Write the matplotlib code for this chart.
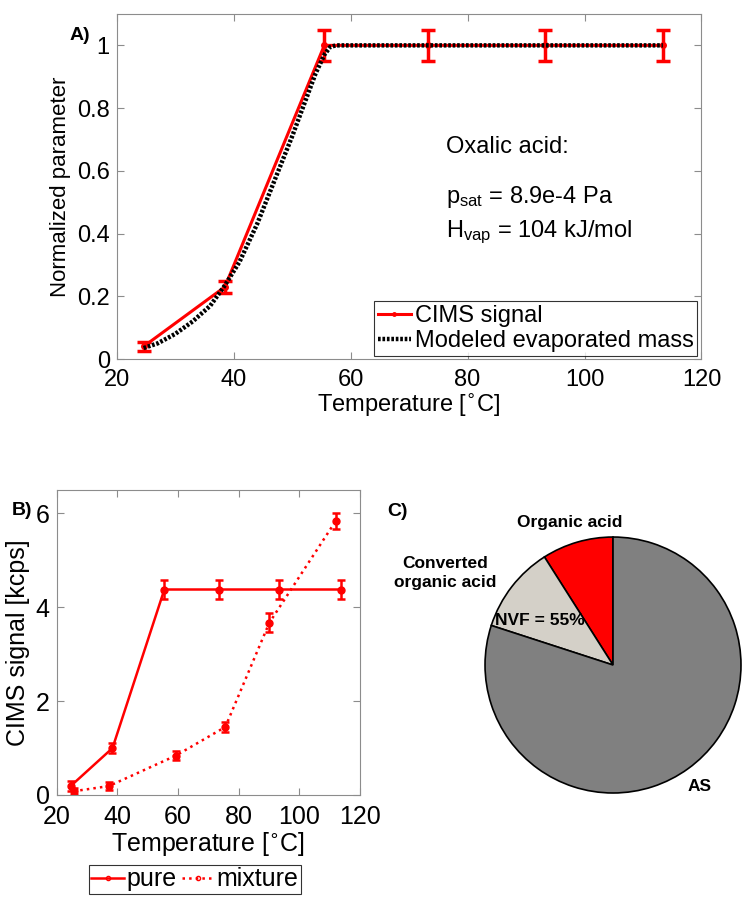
import matplotlib
matplotlib.use("Agg")
import matplotlib.pyplot as plt
from matplotlib.lines import Line2D

plt.rcParams['font.family'] = ['Liberation Sans', 'DejaVu Sans']

# panel A data
temp_a = [24.6, 38.5, 55.5, 73.3, 93.2, 113.4]
cims_norm = [0.04, 0.23, 1.0, 1.0, 1.0, 1.0]
cims_norm_err = [0.015, 0.02, 0.05, 0.05, 0.05, 0.05]
temp_model = [24.6, 27, 30, 33, 36, 38.5, 41, 44, 47, 50, 52, 54, 55.5, 56.5, 57.5, 70, 90, 113.4]
model_mass = [0.035, 0.05, 0.08, 0.12, 0.17, 0.235, 0.31, 0.43, 0.57, 0.71, 0.81, 0.91, 0.97, 0.995, 1.0, 1.0, 1.0, 1.0]

# panel B data
temp_pure = [24.6, 38.4, 55.5, 73.4, 93.4, 113.7]
cims_pure = [0.19, 1.0, 4.38, 4.38, 4.38, 4.38]
cims_pure_err = [0.1, 0.1, 0.2, 0.2, 0.2, 0.2]
temp_mix = [25.6, 37.2, 59.3, 75.6, 90.1, 112.0]
cims_mix = [0.08, 0.19, 0.84, 1.45, 3.67, 5.84]
cims_mix_err = [0.06, 0.08, 0.1, 0.1, 0.2, 0.18]

# panel C data
pie_labels = ['Organic acid', 'Converted\norganic acid', 'AS']
pie_fracs = [0.09, 0.11, 0.80]
pie_colors = ['#ff0000', '#d4d0c8', '#808080']

red = '#ff0000'
frame = '#8c8c8c'


def style_axes(ax, size):
    for s in ax.spines.values():
        s.set_color(frame)
    ax.tick_params(direction='in', top=True, right=True, color=frame,
                   labelsize=size, length=5, pad=5)


fig = plt.figure(figsize=(7.43, 8.98), dpi=100)

# ---- A ----
ax1 = fig.add_axes([0.1571, 0.6002, 0.787, 0.3842])
ax1.errorbar(temp_a, cims_norm, yerr=cims_norm_err, color=red, lw=2.2,
             marker='.', ms=8, capsize=5, capthick=2.5, elinewidth=2.5, zorder=2)
ax1.plot(temp_model, model_mass, color='black', lw=3.2, ls=(0, (0.6, 0.4)), zorder=3)
ax1.set_xlim(20, 120)
ax1.set_ylim(0, 1.1)
ax1.set_xticks([20, 40, 60, 80, 100, 120])
ax1.set_yticks([0, 0.2, 0.4, 0.6, 0.8, 1])
ax1.set_yticklabels(['0', '0.2', '0.4', '0.6', '0.8', '1'])
style_axes(ax1, 17)
ax1.tick_params(axis='x', pad=7)
ax1.set_xlabel('Temperature [$^{\\circ}$C]', fontsize=17, labelpad=1)
ax1.set_ylabel('Normalized parameter', fontsize=16, labelpad=4)
ax1.text(76.3, 0.656, 'Oxalic acid:', fontsize=17, va='baseline')
ax1.text(76.3, 0.497, '$\\mathregular{p_{sat}}$ = 8.9e-4 Pa', fontsize=17, va='baseline')
ax1.text(76.3, 0.389, '$\\mathregular{H_{vap}}$ = 104 kJ/mol', fontsize=17, va='baseline')
h1 = [Line2D([], [], color=red, lw=2.2, marker='.', ms=5),
      Line2D([], [], color='black', lw=3.2, ls=(0, (0.6, 0.4)))]
leg1 = ax1.legend(h1, ['CIMS signal', 'Modeled evaporated mass'],
                  loc='lower right', bbox_to_anchor=(0.9923, 0.0087),
                  fontsize=17, fancybox=False, borderaxespad=0,
                  handlelength=1.4, handletextpad=0.15, borderpad=0.15,
                  labelspacing=0.15)
leg1.get_frame().set_edgecolor('black')
leg1.get_frame().set_linewidth(0.8)
fig.text(0.094, 0.9555, 'A)', fontsize=14, fontweight='bold')

# ---- B ----
ax2 = fig.add_axes([0.0763, 0.1147, 0.4082, 0.3396])
ax2.errorbar(temp_pure, cims_pure, yerr=cims_pure_err, color=red, lw=1.8,
             marker='o', ms=5, capsize=3, capthick=1.8, elinewidth=1.8)
ax2.errorbar(temp_mix, cims_mix, yerr=cims_mix_err, color=red, lw=1.8, ls=':',
             marker='o', ms=5, capsize=3, capthick=1.8, elinewidth=1.8)
ax2.set_xlim(20, 120)
ax2.set_ylim(0, 6.5)
ax2.set_xticks([20, 40, 60, 80, 100, 120])
ax2.set_yticks([0, 2, 4, 6])
style_axes(ax2, 18)
ax2.tick_params(axis='x', pad=7)
ax2.set_xlabel('Temperature [$^{\\circ}$C]', fontsize=18, labelpad=1)
ax2.set_ylabel('CIMS signal [kcps]', fontsize=18, labelpad=4)
h2 = [Line2D([], [], color=red, lw=1.8, marker='o', ms=3, mfc='none'),
      Line2D([], [], color=red, lw=1.8, ls=':', marker='o', ms=3, mfc='none')]
leg2 = ax2.legend(h2, ['pure', 'mixture'], loc='upper center',
                  bbox_to_anchor=(0.456, -0.2295), borderaxespad=0,
                  ncol=2, fontsize=18, fancybox=False, handlelength=1.3,
                  handletextpad=0.1, columnspacing=0.2, borderpad=0.1)
leg2.get_frame().set_edgecolor('black')
leg2.get_frame().set_linewidth(0.8)
fig.text(0.016, 0.4265, 'B)', fontsize=14, fontweight='bold')

# ---- C ----
ax3 = fig.add_axes([0.6528, 0.1169, 0.3445, 0.2851])
ax3.pie(pie_fracs, colors=pie_colors, startangle=90, counterclock=True,
        wedgeprops=dict(edgecolor='black', linewidth=1.2))
ax3.set_xlim(-1, 1)
ax3.set_ylim(-1, 1)
ax3.set_aspect('equal')
ax3.axis('off')
ax3.text(-0.34, 1.11, pie_labels[0], ha='center', va='center', fontsize=12.5,
         fontweight='bold', clip_on=False)
ax3.text(-1.31, 0.72, pie_labels[1], ha='center', va='center', fontsize=12.5,
         fontweight='bold', linespacing=1.3, clip_on=False)
ax3.text(-0.57, 0.35, 'NVF = 55%', ha='center', va='center', fontsize=12.5,
         fontweight='bold', clip_on=False)
ax3.text(0.68, -0.95, pie_labels[2], ha='center', va='center', fontsize=12.5,
         fontweight='bold', clip_on=False)
fig.text(0.521, 0.4254, 'C)', fontsize=14, fontweight='bold')

fig.savefig('out.png', dpi=100)
